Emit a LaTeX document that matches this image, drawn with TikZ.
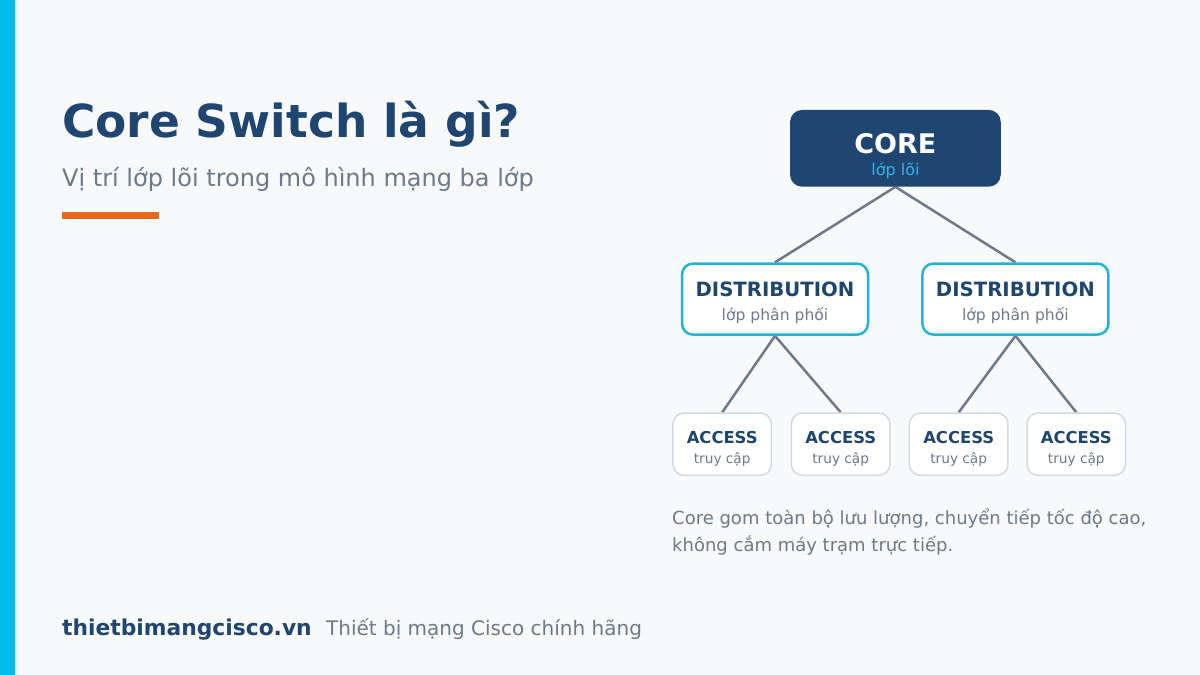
\documentclass[tikz,border=0pt]{standalone}
\usepackage{fontspec}
\setmainfont{DejaVu Sans}
\usepackage{xcolor}
\usetikzlibrary{positioning, backgrounds}

\definecolor{navy}{HTML}{1F4571}
\definecolor{pagebg}{HTML}{F7F9FB}
\definecolor{barcyan}{HTML}{00BCEB}
\definecolor{distcyan}{HTML}{1FB5DB}
\definecolor{skytext}{HTML}{2BB8E6}
\definecolor{slategray}{HTML}{6B7A8C}
\definecolor{linkgray}{HTML}{6E7A8A}
\definecolor{accborder}{HTML}{D3DAE1}
\definecolor{accent}{HTML}{E8681E}

\begin{document}
\begin{tikzpicture}[
					x=1pt, y=1pt,
					% Define styles for the boxes
					core_box/.style={
						fill=navy,
						rounded corners=12pt,
						inner sep=0pt,
						minimum width=210.7pt,
						minimum height=76.7pt
					},
					dist_box/.style={
						draw=distcyan,
						fill=white,
						line width=2.5pt,
						rounded corners=11pt,
						inner sep=0pt,
						minimum width=186pt,
						minimum height=71pt
					},
					access_box/.style={
						draw=accborder,
						fill=white,
						line width=1.5pt,
						rounded corners=11pt,
						inner sep=0pt,
						minimum width=98.5pt,
						minimum height=62.2pt
					},
					link_line/.style={
						draw=linkgray,
						line width=2.5pt
					},
					txt/.style={
						inner sep=0pt,
						anchor=base
					},
					name_text/.style={
						txt, text=navy,
						font=\fontsize{#1}{#1}\selectfont\bfseries
					},
					sub_text/.style={
						txt, text=slategray,
						font=\fontsize{#1}{#1}\selectfont
					}
					]
					
					% --- 1. PAGE ---
					\useasboundingbox (0,0) rectangle (1200,675);
					\fill[barcyan] (0,0) rectangle (15,675);
					
					% --- 2. HEADING ---
					\node[name_text=45.5, anchor=base west] (title) at (62,537) {Core Switch là gì?};
					\node[sub_text=24, anchor=base west] (subtitle) at (62,488.3) {Vị trí lớp lõi trong mô hình mạng ba lớp};
					\fill[accent] (62,456.3) rectangle (159,462.7);
					
					% --- 3. CORE ---
					\node[core_box] (core) at (895.4,526.7) {};
					\node[name_text=27, text=white] (core_name) at ([yshift=-5.7pt]core.center) {CORE};
					\node[txt, text=skytext, font=\fontsize{16}{16}\selectfont] (core_sub) at ([yshift=-27.7pt]core.center) {lớp lõi};
					
					% --- 4. DISTRIBUTION ---
					\node[dist_box, below=75.5pt of core, xshift=-120.4pt] (dist_l) {};
					\node[dist_box, below=75.5pt of core, xshift=120pt] (dist_r) {};
					\foreach \d in {dist_l, dist_r} {
						\node[name_text=19.7] (\d_name) at ([yshift=2.5pt]\d.center) {DISTRIBUTION};
						\node[sub_text=15.6] (\d_sub) at ([yshift=-21.5pt]\d.center) {lớp phân phối};
					}
					
					% --- 5. ACCESS ---
					\node[access_box, below=76.5pt of dist_l, xshift=-52.8pt] (acc_1) {};
					\node[access_box, below=76.5pt of dist_l, xshift=65.7pt] (acc_2) {};
					\node[access_box, below=76.5pt of dist_r, xshift=-56.7pt] (acc_3) {};
					\node[access_box, below=76.5pt of dist_r, xshift=60.9pt] (acc_4) {};
					\foreach \a in {acc_1, acc_2, acc_3, acc_4} {
						\node[name_text=16.4] (\a_name) at ([yshift=0.2pt]\a.center) {ACCESS};
						\node[sub_text=13.7] (\a_sub) at ([yshift=-19.1pt]\a.center) {truy cập};
					}
					
					% --- 6. LINKS (behind the boxes) ---
					\begin{scope}[on background layer]
						\fill[pagebg] (0,0) rectangle (1200,675);
						\draw[link_line] (core.south) -- (dist_l.north);
						\draw[link_line] (core.south) -- (dist_r.north);
						\draw[link_line] (dist_l.south) -- (acc_1.north);
						\draw[link_line] (dist_l.south) -- (acc_2.north);
						\draw[link_line] (dist_r.south) -- (acc_3.north);
						\draw[link_line] (dist_r.south) -- (acc_4.north);
					\end{scope}
					
					% --- 7. NOTE ---
					\node[sub_text=18, anchor=base west] (note_1) at (672,150) {Core gom toàn bộ lưu lượng, chuyển tiếp tốc độ cao,};
					\node[sub_text=18, anchor=base west] (note_2) at (672,123.5) {không cắm máy trạm trực tiếp.};
					
					% --- 8. FOOTER ---
					\node[name_text=21.8, anchor=base west] (site) at (62,39) {thietbimangcisco.vn};
					\node[sub_text=20, right=14pt of site.base east, anchor=base west] (tagline) {Thiết bị mạng Cisco chính hãng};
					
\end{tikzpicture}
\end{document}
